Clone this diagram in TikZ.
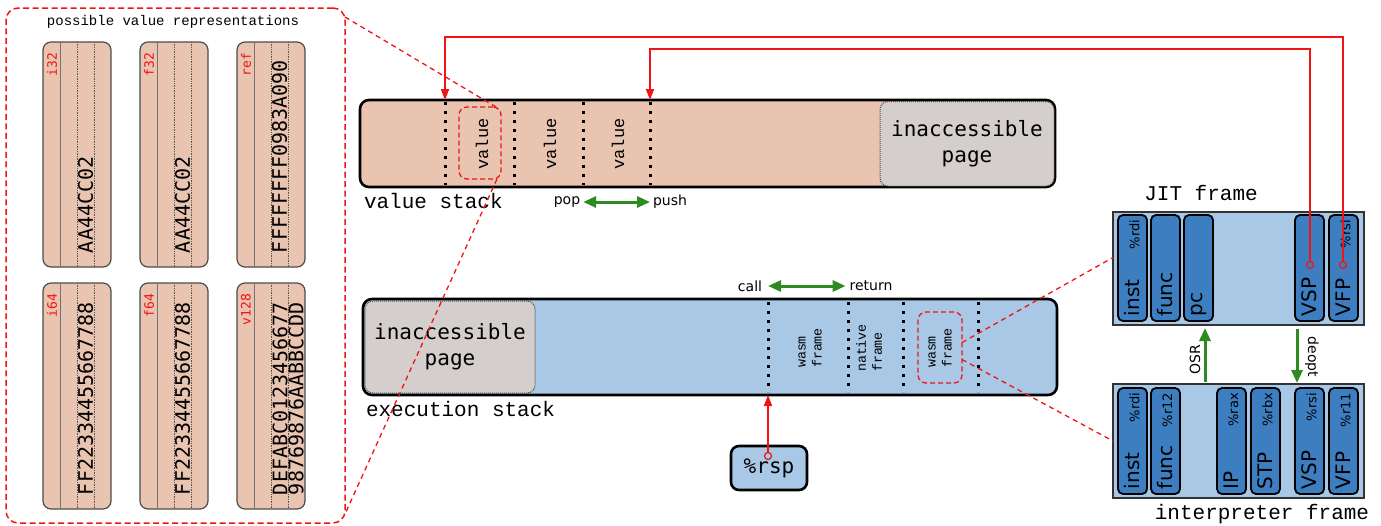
\documentclass[tikz,border=0pt]{standalone}
\usepackage{fontspec}
\setmainfont{DejaVu Sans}
\newfontfamily\lmono{Liberation Mono}
\newfontfamily\dmono{DejaVu Sans Mono}
\usetikzlibrary{arrows.meta,calc}
\definecolor{tan}{RGB}{233,196,177}
\definecolor{lblue}{RGB}{168,200,230}
\definecolor{rblue}{RGB}{61,126,193}
\definecolor{pgray}{RGB}{212,207,204}
\definecolor{rred}{RGB}{240,20,20}
\definecolor{ggreen}{RGB}{46,139,34}
\begin{document}
\begin{tikzpicture}[x=1pt,y=-1pt,
  every node/.style={inner sep=0pt,outer sep=0pt},
  card/.style={draw=black!70,line width=1.2pt,fill=tan,rounded corners=8pt,minimum width=68pt,anchor=north west},
  cline/.style={black!55,line width=0.6pt},
  cdot/.style={black!65,line width=0.7pt,densely dotted},
  cardlbl/.style={text=rred,font=\dmono\fontsize{13}{13}\selectfont,rotate=90,anchor=east},
  cardval/.style={font=\dmono\fontsize{20}{16}\selectfont,rotate=90,anchor=west,align=left},
  stackbox/.style={draw=black,line width=2.6pt,rounded corners=9pt,anchor=north west},
  page/.style={draw=black!70,densely dotted,line width=1pt,fill=pgray,rounded corners=8pt,anchor=north west,align=center,font=\dmono\fontsize{21}{26}\selectfont},
  sep/.style={line width=3pt,dash pattern=on 3pt off 6pt},
  lbl/.style={font=\lmono\fontsize{21}{21}\selectfont},
  valtxt/.style={font=\lmono\fontsize{17}{17}\selectfont,rotate=90},
  frametxt/.style={font=\lmono\fontsize{13.3}{16}\selectfont,rotate=90,align=left},
  small/.style={font=\fontsize{14}{14}\selectfont},
  hlbox/.style={draw=rred,line width=1.3pt,dash pattern=on 5pt off 3pt,rounded corners=8pt},
  hlline/.style={rred,line width=1.3pt,dash pattern=on 5pt off 4pt},
  garrow/.style={ggreen,line width=3pt,{Triangle[length=13pt,width=11pt]}-{Triangle[length=13pt,width=11pt]}},
  gone/.style={ggreen,line width=3pt,-{Triangle[length=13pt,width=11pt]}},
  ptr/.style={rred,line width=1.8pt,-{Triangle[length=11pt,width=8pt]}},
  rdot/.style={circle,draw=rred,line width=1.2pt,minimum size=7pt},
  frame/.style={draw=black!80,line width=1.8pt,fill=lblue,anchor=north west,minimum width=251pt},
  reg/.style={draw=black,line width=1.8pt,fill=rblue,rounded corners=5pt,minimum width=29pt,minimum height=106pt,anchor=north west},
  regmain/.style={font=\fontsize{20}{20}\selectfont,rotate=90,anchor=west},
  regsmall/.style={font=\fontsize{13}{13}\selectfont,rotate=90,anchor=east}
]
\useasboundingbox (0,0) rectangle (1381,525);

% ---------- possible value representations ----------
\node[draw=rred,line width=1.5pt,dash pattern=on 6pt off 3.5pt,rounded corners=12pt,minimum width=339pt,minimum height=515pt,anchor=north west] (pvr) at (6,8) {};
\node[font=\lmono\fontsize{14}{14}\selectfont] (title) at (173,22) {possible value representations};

\foreach \n/\x/\y/\h/\l/\v in {c1/43/42/225/i32/AA44CC02,c2/140/42/225/f32/AA44CC02,c3/237/42/225/ref/FFFFFFFF0983A090,c4/43/283/226/i64/FF22334455667788,c5/140/283/226/f64/FF22334455667788}{
  \node[card,minimum height=\h pt] (\n) at (\x,\y) {};
  \draw[cline] ($(\n.north west)+(17,0)$) -- ($(\n.south west)+(17,0)$);
  \draw[cdot] ($(\n.north west)+(34,0)$) -- ($(\n.south west)+(34,0)$);
  \draw[cdot] ($(\n.north west)+(51,0)$) -- ($(\n.south west)+(51,0)$);
  \node[cardlbl] (\n l) at ($(\n.north west)+(9,11)$) {\l};
  \node[cardval] (\n v) at ($(\n.south west)+(42.5,-14)$) {\v};
}
\node[card,minimum height=226pt] (c6) at (237,283) {};
\draw[cline] ($(c6.north west)+(17,0)$) -- ($(c6.south west)+(17,0)$);
\draw[cdot] ($(c6.north west)+(34,0)$) -- ($(c6.south west)+(34,0)$);
\draw[cdot] ($(c6.north west)+(51,0)$) -- ($(c6.south west)+(51,0)$);
\node[cardlbl] (c6l) at ($(c6.north west)+(9,11)$) {v128};
\node[cardval] (c6v) at ($(c6.south west)+(51,-14)$) {DEFABC0123456677\\98769876AABBCCDD};

% ---------- value stack ----------
\node[stackbox,fill=tan,minimum width=695pt,minimum height=87pt] (vs) at (360,100) {};
\node[page,minimum width=174pt,minimum height=84.5pt] (vpage) at (880,101.5) {inaccessible\\page};
\foreach \o in {85,154,223,290}{
  \draw[sep] ($(vs.north west)+(\o,2)$) -- ($(vs.south west)+(\o,-2)$);
}
\node[hlbox,minimum width=42pt,minimum height=72pt] (val1) at (480,143) {};
\node[valtxt] (v1) at (482,144) {value};
\node[valtxt] (v2) at (550,144) {value};
\node[valtxt] (v3) at (618,144) {value};
\node[lbl,anchor=west] (vslbl) at (364,201) {value stack};
\node[small] (pop) at (567,202) {pop};
\node[small] (push) at (670,202) {push};
\draw[garrow] ($(pop.east)+(3,0)$) -- ($(push.west)+(-3,0)$);

% ---------- execution stack ----------
\node[stackbox,fill=lblue,minimum width=694pt,minimum height=96pt] (es) at (363,299) {};
\node[page,minimum width=170pt,minimum height=92pt] (epage) at (365,301) {inaccessible\\page};
\foreach \o in {405,485,540,615}{
  \draw[sep] ($(es.north west)+(\o,3)$) -- ($(es.south west)+(\o,-3)$);
}
\node[frametxt] (f1) at (810,348) {wasm\\frame};
\node[frametxt] (f2) at (869,348) {native\\frame};
\node[hlbox,minimum width=44pt,minimum height=71pt] (wf) at (940,347.5) {};
\node[frametxt] (f3) at (940,348) {wasm\\frame};
\node[lbl,anchor=west] (eslbl) at (366,409) {execution stack};
\node[small] (call) at (750,286) {call};
\node[small] (ret) at (871,286) {return};
\draw[garrow] ($(call.east)+(6,0)$) -- ($(ret.west)+(-4,0)$);

% ---------- %rsp ----------
\node[draw=black,line width=2.6pt,fill=lblue,rounded corners=8pt,minimum width=76pt,minimum height=44pt,font=\dmono\fontsize{21}{21}\selectfont] (rsp) at (769,468) {\%rsp};
\node[rdot] (rspdot) at ($(rsp.north)+(-1,10)$) {};
\draw[ptr] (rspdot) -- (rspdot |- es.south);

% ---------- JIT frame ----------
\node[frame,minimum height=113pt] (jit) at (1113,212) {};
\node[lbl] (jitlbl) at (1201,193) {JIT frame};
\foreach \n/\x/\m/\s in {j1/1118/inst/\%rdi,j2/1151/func/,j3/1184/pc/,j4/1295/VSP/,j5/1329/VFP/\%rsi}{
  \node[reg] (\n) at (\x,215) {};
  \node[regmain] (\n m) at ($(\n.south)+(0,-5)$) {\m};
  \node[regsmall] (\n s) at ($(\n.north)+(2,5)$) {\s};
}

% ---------- interpreter frame ----------
\node[frame,minimum height=114pt] (interp) at (1113,384) {};
\node[lbl] (intlbl) at (1262,514) {interpreter frame};
\foreach \n/\x/\m/\s in {i1/1118/inst/\%rdi,i2/1151/func/\%r12,i3/1217/IP/\%rax,i4/1251/STP/\%rbx,i5/1295/VSP/\%rsi,i6/1329/VFP/\%r11}{
  \node[reg] (\n) at (\x,388) {};
  \node[regmain] (\n m) at ($(\n.south)+(0,-5)$) {\m};
  \node[regsmall] (\n s) at ($(\n.north)+(2,5)$) {\s};
}

% ---------- OSR / deopt ----------
\draw[gone] ($(interp.north west)+(92,-2)$) -- ($(jit.south west)+(92,3)$);
\node[small,rotate=90] (osr) at (1195,360) {OSR};
\draw[gone] ($(jit.south west)+(184,4)$) -- ($(interp.north west)+(184,-1)$);
\node[small,rotate=-90] (deopt) at (1312,357) {deopt};

% ---------- highlight connectors ----------
\draw[hlline] ($(pvr.north east)+(0,9)$) -- ($(val1.north east)+(-5,0)$);
\draw[hlline] ($(val1.south east)+(-4,0)$) -- ($(pvr.south east)+(0,-9)$);
\draw[hlline] ($(wf.east)+(0,-5)$) -- ($(jit.west)+(0,-11)$);
\draw[hlline] ($(wf.east)+(0,12)$) -- (interp.west);

% ---------- stack pointers ----------
\node[rdot] (vspdot) at ($(j4.north)+(0.5,50)$) {};
\node[rdot] (vfpdot) at ($(j5.north)+(-0.5,50)$) {};
\coordinate (vsptgt) at ($(vs.north west)+(290,0)$);
\coordinate (vfptgt) at ($(vs.north west)+(85,0)$);
\draw[ptr] (vspdot.north) -- ++(0,-212.5) -| (vsptgt);
\draw[ptr] (vfpdot.north) -- ++(0,-224.5) -| (vfptgt);
\end{tikzpicture}
\end{document}
